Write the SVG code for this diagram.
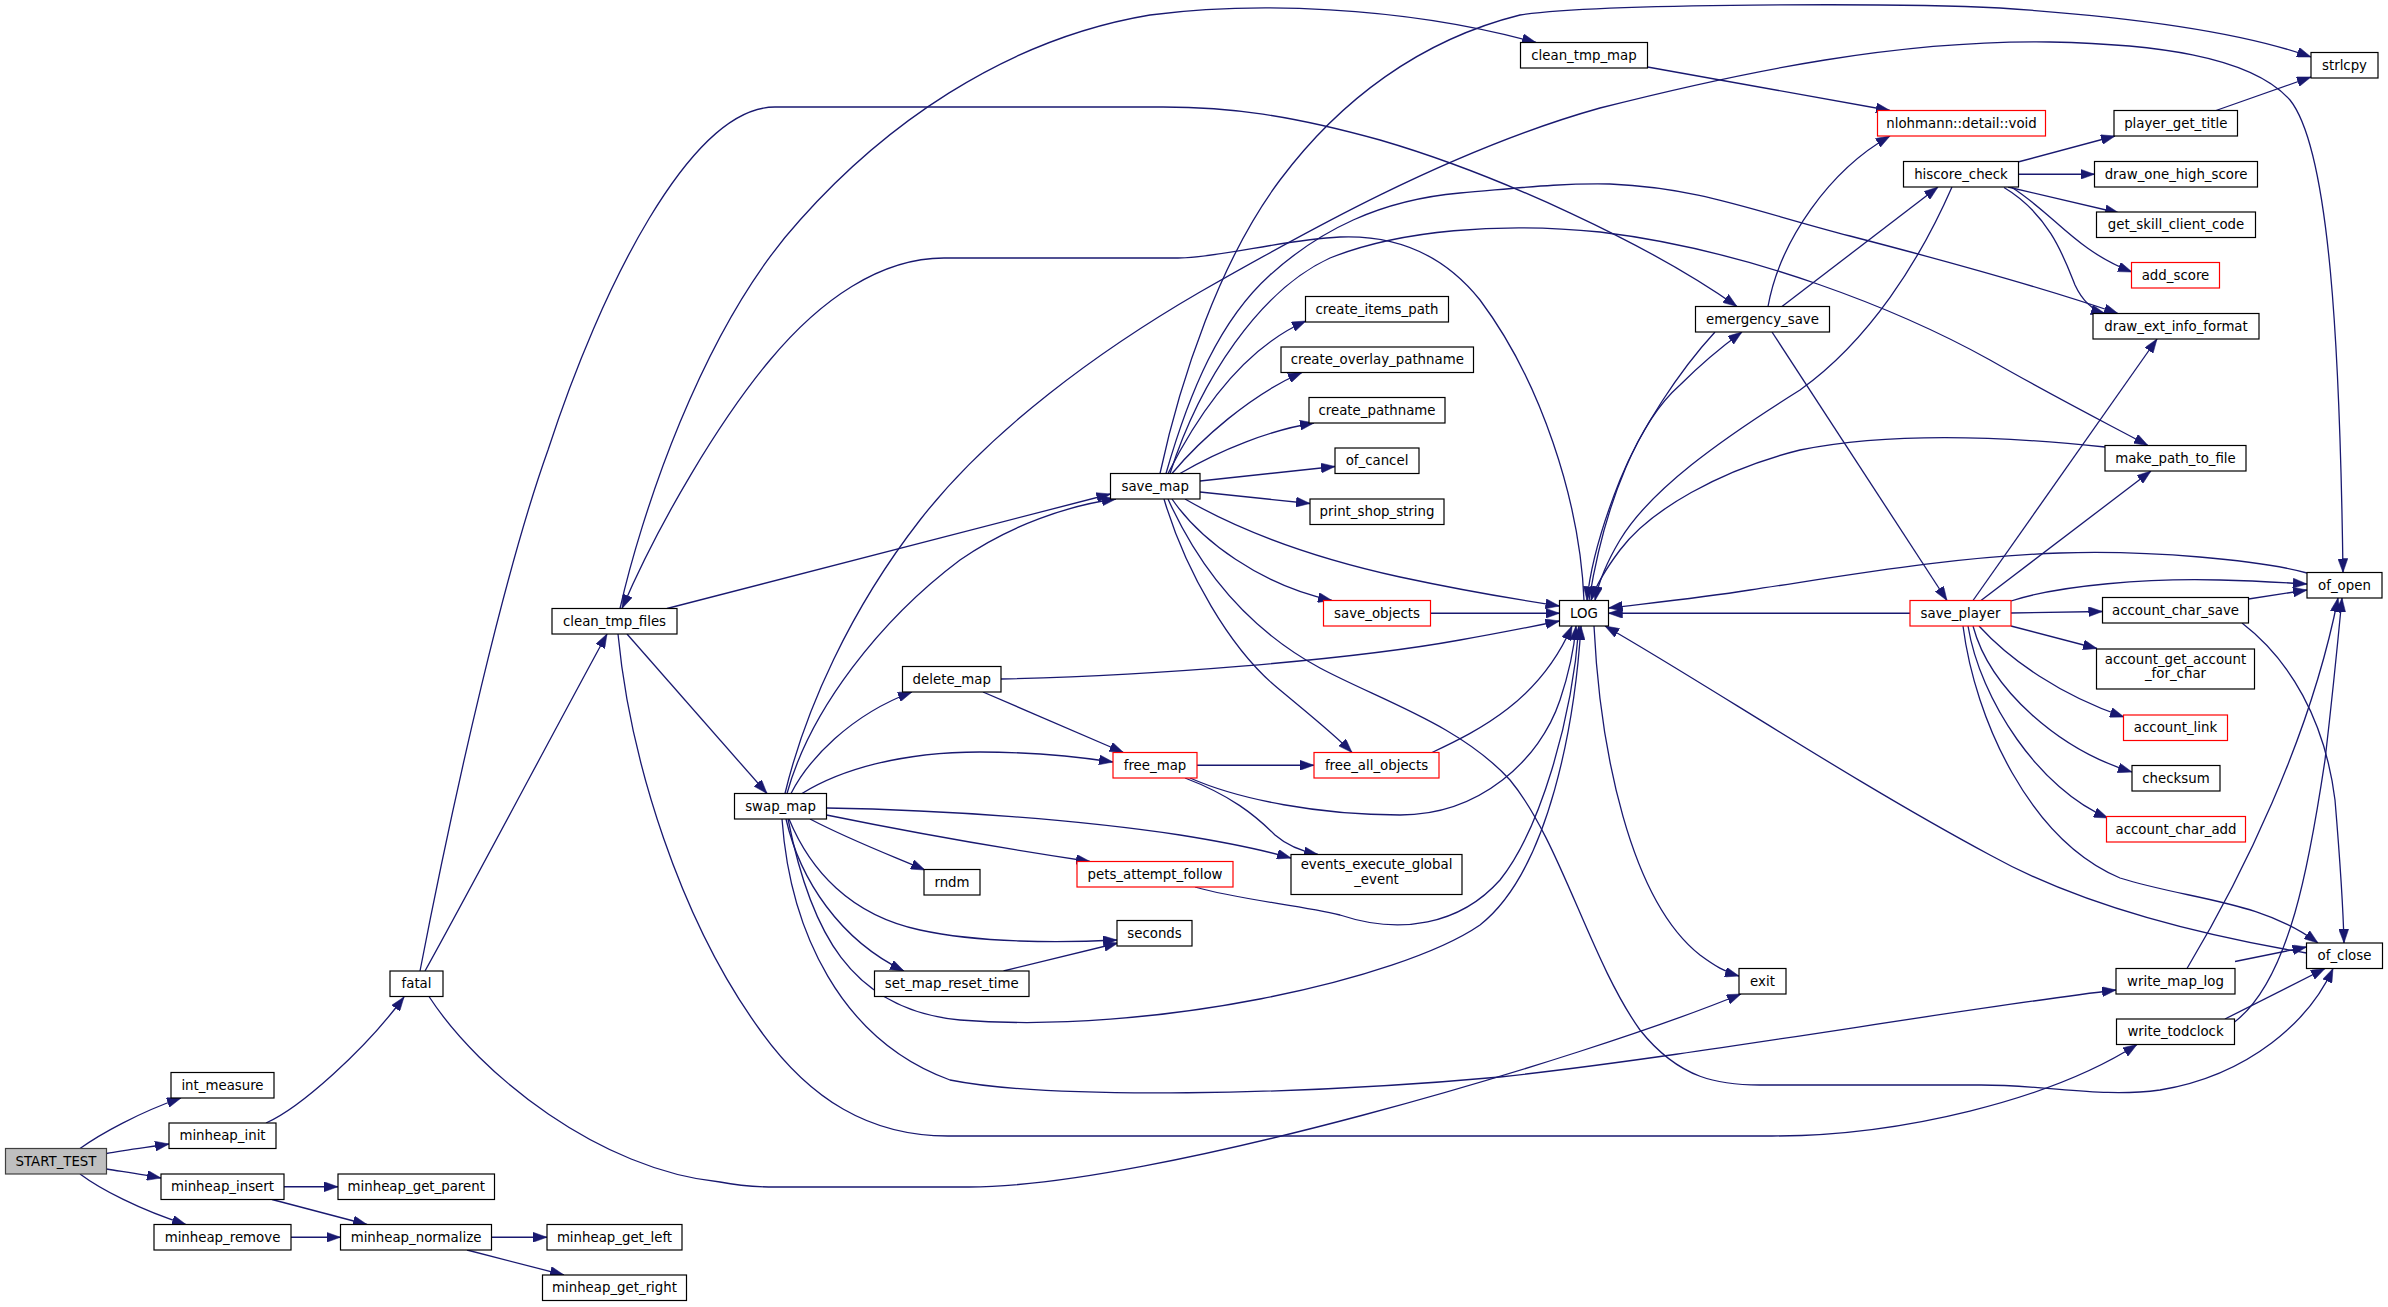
<svg xmlns="http://www.w3.org/2000/svg" width="2388" height="1307" viewBox="0 0 2388 1307">
<style>
.n rect{fill:#ffffff;stroke:#000000;stroke-width:1.2}
.n.r rect{stroke:#ff0000}
.n.g rect{fill:#bfbfbf;stroke:#404040}
.n text{font-family:"DejaVu Sans","Liberation Sans",sans-serif;font-size:13.33px;fill:#000000;text-anchor:middle}
#edges path{fill:none;stroke:#191970;stroke-width:1.3;marker-end:url(#a)}
</style>
<defs>
<marker id="a" markerUnits="userSpaceOnUse" markerWidth="14" markerHeight="10" refX="14" refY="5" orient="auto" viewBox="0 0 14 10"><path d="M0,0L14,5L0,10z" fill="#191970" stroke="#191970" stroke-width="0.5"/></marker>
</defs>
<rect width="2388" height="1307" fill="#ffffff"/>
<g id="edges">
<path d="M80,1148.5 C100,1134 140,1112 181,1098"/>
<path d="M106.5,1153.5 C125,1150 150,1147 169,1144"/>
<path d="M106.5,1169 C125,1172 145,1175 161,1178"/>
<path d="M80,1174 C100,1189 140,1210 186,1224.5"/>
<path d="M266,1123 C300,1108 365,1050 404,997"/>
<path d="M284,1186.75 L338,1186.75"/>
<path d="M272,1199.5 L367,1224.5"/>
<path d="M291,1237.25 L340.5,1237.25"/>
<path d="M491.5,1237.25 L547,1237.25"/>
<path d="M467,1250 L564,1275"/>
<path d="M425,971 C470,890 560,720 607,634"/>
<path d="M420,971 C455,790 505,570 548,450 C600,290 690,107 775,107 L1163,107 C1230,107 1290,115 1380,140 C1500,175 1650,245 1737,306.5"/>
<path d="M429,996.5 C480,1075 600,1170 720,1182 C740,1186 760,1187 775,1187 L969,1187 C1150,1187 1580,1060 1741,994"/>
<path d="M620,608.5 C640,520 700,330 800,220 C880,130 1000,40 1150,15 C1250,2 1400,5 1536,42.5"/>
<path d="M1584,600.5 C1580,500 1540,380 1480,300 C1440,250 1390,235 1340,237 C1280,240 1220,258 1178,258 L944,258 C880,258 820,300 770,360 C720,420 660,520 622,608.5"/>
<path d="M667,608.5 L1110.5,494"/>
<path d="M627,634 L767,793.5"/>
<path d="M618,634 C630,760 680,920 760,1030 C810,1100 870,1136 948,1136 L1772,1136 C1900,1136 2050,1100 2137,1044.5"/>
<path d="M787,793.5 C810,710 880,620 960,560 C1010,525 1070,505 1116,499"/>
<path d="M791,793.5 C808,760 850,715 912,692"/>
<path d="M802,793.5 C840,770 900,752 980,752 C1030,752 1080,757 1113,762"/>
<path d="M826.5,808 C950,810 1080,820 1180,835 C1230,843 1270,852 1291,858"/>
<path d="M826.5,815 C900,830 1000,848 1090,861.5"/>
<path d="M810,819 C850,840 890,855 925,870"/>
<path d="M789,819 C810,870 850,915 920,930 C980,943 1060,943 1117,940"/>
<path d="M786,819 C800,880 840,940 904,971"/>
<path d="M1003.5,971 L1118,943"/>
<path d="M788,819 C810,930 850,1010 960,1020 C1150,1035 1400,980 1480,925 C1550,870 1575,720 1581,626"/>
<path d="M782,819 C790,930 840,1040 950,1080 C1050,1100 1300,1095 1500,1077 C1700,1055 1950,1010 2116,990"/>
<path d="M785,793.5 C805,710 850,610 920,520 C990,430 1100,350 1200,292 C1300,235 1450,150 1600,108 C1750,70 1900,40 2050,42 C2150,44 2250,55 2290,100 C2330,150 2340,350 2343,572.5"/>
<path d="M983,692 L1123.5,752.5"/>
<path d="M1001,679 C1150,676 1350,660 1460,640 C1500,633 1530,627 1559.5,621"/>
<path d="M1168,473.5 C1195,420 1240,350 1306,321"/>
<path d="M1172,473.5 C1200,440 1250,395 1302,372.5"/>
<path d="M1180,473.5 C1220,450 1270,430 1314,423"/>
<path d="M1200,481 L1335,466.5"/>
<path d="M1200,492 L1310,503.5"/>
<path d="M1172,499 C1200,540 1260,585 1332,600.5"/>
<path d="M1164,499 C1185,570 1230,650 1280,690 C1310,715 1335,735 1352,752.5"/>
<path d="M1185,499 C1230,525 1300,555 1400,577 C1470,592 1520,600 1559.5,606"/>
<path d="M1168,499 C1200,570 1250,630 1320,668 C1380,700 1460,725 1510,780 C1560,840 1590,960 1640,1030 C1680,1080 1720,1085 1760,1085 L1981,1085 C2050,1085 2100,1098 2160,1090 C2250,1075 2310,1020 2333,968.5"/>
<path d="M1160,473.5 C1180,380 1220,260 1280,180 C1340,100 1420,40 1520,15 C1600,3 1900,3 2000,8 C2150,18 2250,35 2311,57"/>
<path d="M1166,473.5 C1190,390 1220,320 1270,275 C1320,230 1380,200 1460,193 C1520,188 1560,183 1610,184 C1700,188 1750,210 1850,236 C1950,262 2050,290 2118,313.5"/>
<path d="M1170,473.5 C1200,380 1260,290 1330,258 C1400,230 1500,222 1600,232 C1750,250 1900,310 1990,360 C2060,400 2110,425 2148,445.5"/>
<path d="M1197,765.25 L1314,765.25"/>
<path d="M1185,778 C1230,795 1255,815 1275,835 C1290,848 1305,852 1318,854.5"/>
<path d="M1190,778 C1240,800 1320,815 1400,815 C1480,815 1540,760 1560,700 C1570,670 1574,650 1576,626"/>
<path d="M1432,752.5 C1480,730 1540,700 1572,626"/>
<path d="M1195,887 C1240,900 1300,905 1340,915 C1400,935 1460,925 1500,880 C1540,830 1572,720 1579,626"/>
<path d="M1430.5,613.25 L1559.5,613.25"/>
<path d="M1589,600.5 C1605,500 1640,420 1680,385 C1700,365 1720,348 1742,332"/>
<path d="M1715,332 C1680,370 1640,430 1620,480 C1600,530 1590,570 1587,600.5"/>
<path d="M1594,626 C1600,750 1630,900 1700,955 C1715,966 1725,972 1739,976"/>
<path d="M1768,306.5 C1780,240 1830,170 1890,136"/>
<path d="M1782,306.5 L1938,187"/>
<path d="M1772,332 L1947,600.5"/>
<path d="M1647.5,67 L1890,110.5"/>
<path d="M2018,162 L2115,136"/>
<path d="M2018.5,174.25 L2094.5,174.25"/>
<path d="M2008,187 L2119,213"/>
<path d="M2012,187.5 C2055,215 2075,250 2132,272"/>
<path d="M2004,187.5 C2050,215 2065,260 2075,285 C2082,300 2092,310 2105,313.5"/>
<path d="M1952,187 C1920,260 1870,340 1800,390 C1720,440 1650,490 1620,540 C1605,565 1598,585 1595,600.5"/>
<path d="M2216,110.5 L2311,77"/>
<path d="M2105,447 C2020,438 1900,430 1800,450 C1720,470 1650,510 1620,550 C1605,570 1596,585 1591,600.5"/>
<path d="M2307,573 C2260,560 2150,550 2060,553 C1950,557 1850,575 1750,590 C1700,598 1650,603 1608.5,608"/>
<path d="M1910,613.25 L1608.5,613.25"/>
<path d="M2011,601 C2060,585 2150,578 2220,580 C2260,581 2290,583 2307,584"/>
<path d="M2248.5,599 L2307,590"/>
<path d="M2011,613 L2102.5,611.5"/>
<path d="M2011,626 L2097,648.5"/>
<path d="M1979,626 C2010,660 2060,695 2124,717"/>
<path d="M1973,626 C1990,690 2060,750 2132,772"/>
<path d="M1968,626 C1980,700 2040,790 2108,818"/>
<path d="M1963,626 C1975,720 2030,840 2120,878 C2190,900 2260,900 2318,943"/>
<path d="M1973,600.5 L2157,339"/>
<path d="M1981,600.5 L2151,471"/>
<path d="M2242,623 C2290,660 2325,720 2335,800 C2340,860 2343,900 2344,943"/>
<path d="M2187,968.5 C2240,880 2310,740 2338,598"/>
<path d="M2235,961.5 L2306.5,947"/>
<path d="M2225,1019 L2325,968.5"/>
<path d="M2234.5,1022 C2290,980 2310,860 2325,760 C2332,700 2338,640 2342,598"/>
<path d="M2306.5,953 C2200,935 2080,905 1990,855 C1850,780 1700,680 1605,626"/>
</g>
<g id="START_TEST" class="n g"><rect x="5.5" y="1148.5" width="101" height="25.5"/><text x="56" y="1165.9">START_TEST</text></g>
<g id="int_measure" class="n"><rect x="171" y="1072.5" width="103" height="25.5"/><text x="222.5" y="1089.9">int_measure</text></g>
<g id="minheap_init" class="n"><rect x="169" y="1123" width="107" height="25.5"/><text x="222.5" y="1140.4">minheap_init</text></g>
<g id="minheap_insert" class="n"><rect x="161" y="1174" width="123" height="25.5"/><text x="222.5" y="1191.4">minheap_insert</text></g>
<g id="minheap_remove" class="n"><rect x="154" y="1224.5" width="137" height="25.5"/><text x="222.5" y="1241.9">minheap_remove</text></g>
<g id="minheap_get_parent" class="n"><rect x="338" y="1174" width="156.5" height="25.5"/><text x="416.25" y="1191.4">minheap_get_parent</text></g>
<g id="minheap_normalize" class="n"><rect x="340.5" y="1224.5" width="151" height="25.5"/><text x="416" y="1241.9">minheap_normalize</text></g>
<g id="minheap_get_left" class="n"><rect x="547" y="1224.5" width="135" height="25.5"/><text x="614.5" y="1241.9">minheap_get_left</text></g>
<g id="minheap_get_right" class="n"><rect x="542.5" y="1275" width="144" height="25.5"/><text x="614.5" y="1292.4">minheap_get_right</text></g>
<g id="fatal" class="n"><rect x="390" y="971" width="53" height="25.5"/><text x="416.5" y="988.4">fatal</text></g>
<g id="clean_tmp_files" class="n"><rect x="552" y="608.5" width="125" height="25.5"/><text x="614.5" y="625.9">clean_tmp_files</text></g>
<g id="swap_map" class="n"><rect x="734.5" y="793.5" width="92" height="25.5"/><text x="780.5" y="810.9">swap_map</text></g>
<g id="delete_map" class="n"><rect x="902.5" y="666.5" width="98.5" height="25.5"/><text x="951.75" y="683.9">delete_map</text></g>
<g id="set_map_reset_time" class="n"><rect x="874.5" y="971" width="154.5" height="25.5"/><text x="951.75" y="988.4">set_map_reset_time</text></g>
<g id="rndm" class="n"><rect x="924" y="869.5" width="56" height="25.5"/><text x="952" y="886.9">rndm</text></g>
<g id="save_map" class="n"><rect x="1110.5" y="473.5" width="89.5" height="25.5"/><text x="1155.25" y="490.9">save_map</text></g>
<g id="free_map" class="n r"><rect x="1113" y="752.5" width="84" height="25.5"/><text x="1155" y="769.9">free_map</text></g>
<g id="pets_attempt_follow" class="n r"><rect x="1077" y="861.5" width="156" height="25.5"/><text x="1155" y="878.9">pets_attempt_follow</text></g>
<g id="seconds" class="n"><rect x="1117" y="920.5" width="75" height="25.5"/><text x="1154.5" y="937.9">seconds</text></g>
<g id="create_items_path" class="n"><rect x="1305.5" y="296.5" width="143" height="25.5"/><text x="1377" y="313.9">create_items_path</text></g>
<g id="create_overlay_pathname" class="n"><rect x="1281" y="347" width="192.5" height="25.5"/><text x="1377.25" y="364.4">create_overlay_pathname</text></g>
<g id="create_pathname" class="n"><rect x="1309" y="397.5" width="136" height="25.5"/><text x="1377" y="414.9">create_pathname</text></g>
<g id="of_cancel" class="n"><rect x="1335" y="448" width="84" height="25.5"/><text x="1377" y="465.4">of_cancel</text></g>
<g id="print_shop_string" class="n"><rect x="1310" y="499" width="134" height="25.5"/><text x="1377" y="516.4">print_shop_string</text></g>
<g id="save_objects" class="n r"><rect x="1323.5" y="600.5" width="107" height="25.5"/><text x="1377" y="617.9">save_objects</text></g>
<g id="free_all_objects" class="n r"><rect x="1314" y="752.5" width="125" height="25.5"/><text x="1376.5" y="769.9">free_all_objects</text></g>
<g id="events_execute_global_event" class="n"><rect x="1291" y="854.5" width="171" height="40"/><text x="1376.5" y="869">events_execute_global</text><text x="1376.5" y="883.5">_event</text></g>
<g id="clean_tmp_map" class="n"><rect x="1520.5" y="42.5" width="127" height="25.5"/><text x="1584" y="59.9">clean_tmp_map</text></g>
<g id="LOG" class="n"><rect x="1559.5" y="600.5" width="49" height="25.5"/><text x="1584" y="617.9">LOG</text></g>
<g id="emergency_save" class="n"><rect x="1695.5" y="306.5" width="134" height="25.5"/><text x="1762.5" y="323.9">emergency_save</text></g>
<g id="exit" class="n"><rect x="1739" y="968.5" width="47" height="25.5"/><text x="1762.5" y="985.9">exit</text></g>
<g id="nlohmann_detail_void" class="n r"><rect x="1877.5" y="110.5" width="168" height="25.5"/><text x="1961.5" y="127.9">nlohmann::detail::void</text></g>
<g id="hiscore_check" class="n"><rect x="1903.5" y="161.5" width="115" height="25.5"/><text x="1961" y="178.9">hiscore_check</text></g>
<g id="save_player" class="n r"><rect x="1910" y="600.5" width="101" height="25.5"/><text x="1960.5" y="617.9">save_player</text></g>
<g id="player_get_title" class="n"><rect x="2114" y="110.5" width="123.5" height="25.5"/><text x="2175.75" y="127.9">player_get_title</text></g>
<g id="draw_one_high_score" class="n"><rect x="2094.5" y="161.5" width="163" height="25.5"/><text x="2176" y="178.9">draw_one_high_score</text></g>
<g id="get_skill_client_code" class="n"><rect x="2096.5" y="212" width="159" height="25.5"/><text x="2176" y="229.4">get_skill_client_code</text></g>
<g id="add_score" class="n r"><rect x="2131.5" y="262.5" width="88" height="25.5"/><text x="2175.5" y="279.9">add_score</text></g>
<g id="draw_ext_info_format" class="n"><rect x="2093" y="313.5" width="166" height="25.5"/><text x="2176" y="330.9">draw_ext_info_format</text></g>
<g id="make_path_to_file" class="n"><rect x="2105" y="445.5" width="141" height="25.5"/><text x="2175.5" y="462.9">make_path_to_file</text></g>
<g id="account_char_save" class="n"><rect x="2102.5" y="597.5" width="146" height="25.5"/><text x="2175.5" y="614.9">account_char_save</text></g>
<g id="account_get_account_for_char" class="n"><rect x="2096.5" y="649" width="158" height="40"/><text x="2175.5" y="663.5">account_get_account</text><text x="2175.5" y="678">_for_char</text></g>
<g id="account_link" class="n r"><rect x="2123.5" y="715" width="104" height="25.5"/><text x="2175.5" y="732.4">account_link</text></g>
<g id="checksum" class="n"><rect x="2132" y="765.5" width="88" height="25.5"/><text x="2176" y="782.9">checksum</text></g>
<g id="account_char_add" class="n r"><rect x="2106.5" y="816.5" width="139" height="25.5"/><text x="2176" y="833.9">account_char_add</text></g>
<g id="write_map_log" class="n"><rect x="2116" y="968.5" width="119" height="25.5"/><text x="2175.5" y="985.9">write_map_log</text></g>
<g id="write_todclock" class="n"><rect x="2116.5" y="1019" width="118" height="25.5"/><text x="2175.5" y="1036.4">write_todclock</text></g>
<g id="strlcpy" class="n"><rect x="2311" y="52.5" width="67" height="25.5"/><text x="2344.5" y="69.9">strlcpy</text></g>
<g id="of_open" class="n"><rect x="2307" y="572.5" width="75" height="25.5"/><text x="2344.5" y="589.9">of_open</text></g>
<g id="of_close" class="n"><rect x="2306.5" y="943" width="76" height="25.5"/><text x="2344.5" y="960.4">of_close</text></g>
</svg>
